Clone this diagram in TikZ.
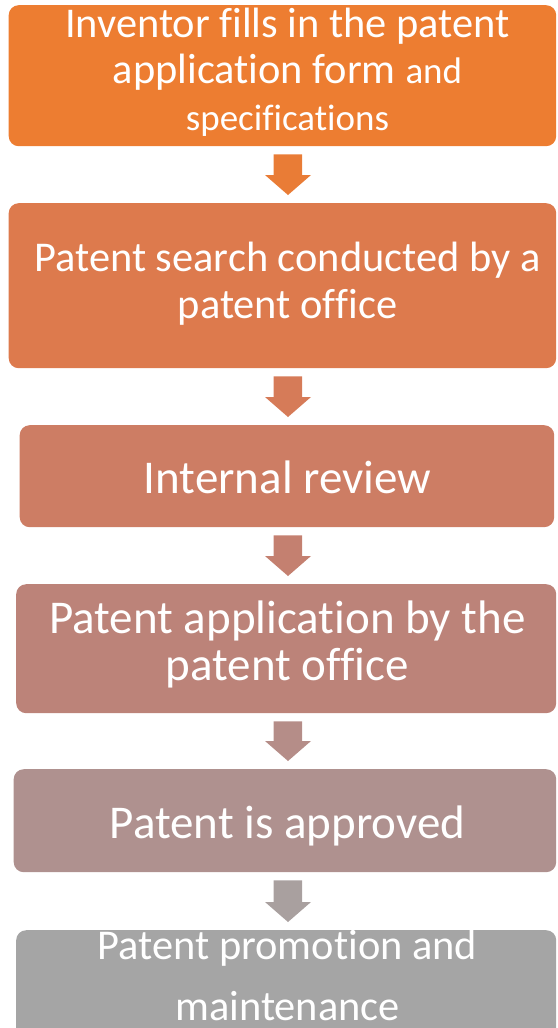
\documentclass[tikz,border=0pt]{standalone}
\usepackage{fontspec}
\setmainfont[Ligatures=NoCommon]{Carlito}
\usetikzlibrary{calc}
\definecolor{boxA}{RGB}{237,125,49}
\definecolor{arrA}{RGB}{233,124,54}
\definecolor{boxB}{RGB}{221,122,77}
\definecolor{arrB}{RGB}{214,123,88}
\definecolor{boxC}{RGB}{205,125,100}
\definecolor{arrC}{RGB}{196,128,112}
\definecolor{boxD}{RGB}{188,131,121}
\definecolor{arrD}{RGB}{181,141,136}
\definecolor{boxE}{RGB}{175,145,143}
\definecolor{arrE}{RGB}{169,160,159}
\definecolor{boxF}{RGB}{165,165,165}
\tikzset{
  stage/.style={rounded corners=10pt, inner sep=0pt, anchor=north west},
  linetext/.style={anchor=base, text=white, inner sep=0pt, font=\fontsize{42.4pt}{50pt}\selectfont},
  bigtext/.style={linetext, font=\fontsize{47pt}{56pt}\selectfont},
  smalltext/.style={linetext, font=\fontsize{37pt}{44pt}\selectfont},
}
\newcommand{\flowarrow}[3]{%
  \fill[#3] let \p1=(#1.south), \p2=(#2.north) in
    (273.5pt,\y1-8pt) -- (302pt,\y1-8pt) -- (302pt,\y2+28pt) -- (311pt,\y2+28pt)
    -- (288pt,\y2+8pt) -- (265pt,\y2+28pt) -- (273.5pt,\y2+28pt) -- cycle;}
\begin{document}
\begin{tikzpicture}[x=1pt,y=-1pt]
\useasboundingbox (0,0) rectangle (557,1028);
\clip (0,0) rectangle (557,1028);
% boxes
\node[stage, fill=boxA, minimum width=547.5pt, minimum height=141pt] (b1) at (8.5,5) {};
\node[stage, fill=boxB, minimum width=547.5pt, minimum height=165pt] (b2) at (8.5,203) {};
\node[stage, fill=boxC, minimum width=534.5pt, minimum height=102pt] (b3) at (19.5,425) {};
\node[stage, fill=boxD, minimum width=540pt, minimum height=129pt] (b4) at (16,584) {};
\node[stage, fill=boxE, minimum width=542.5pt, minimum height=103pt] (b5) at (13.5,769) {};
\node[stage, fill=boxF, minimum width=540pt, minimum height=115pt] (b6) at (16,930) {};
% arrows
\flowarrow{b1}{b2}{arrA}
\flowarrow{b2}{b3}{arrB}
\flowarrow{b3}{b4}{arrC}
\flowarrow{b4}{b5}{arrD}
\flowarrow{b5}{b6}{arrE}
% texts
\node[linetext] (t1a) at (287.5,37) {Inventor fills in the patent};
\node[linetext] (t1b) at (287.5,83) {application form {\fontsize{37pt}{44pt}\selectfont and}};
\node[smalltext] (t1c) at (287.5,130) {specifications};
\node[linetext] (t2a) at (287.5,271) {Patent search conducted by a};
\node[linetext] (t2b) at (287.5,318) {patent office};
\node[bigtext] (t3) at (287.5,493) {Internal review};
\node[bigtext] (t4a) at (287.5,633) {Patent application by the};
\node[bigtext] (t4b) at (287.5,680) {patent office};
\node[bigtext] (t5) at (287.5,838) {Patent is approved};
\node[linetext] (t6a) at (287.5,959) {Patent promotion and};
\node[linetext] (t6b) at (287.5,1020) {maintenance};
\end{tikzpicture}
\end{document}
